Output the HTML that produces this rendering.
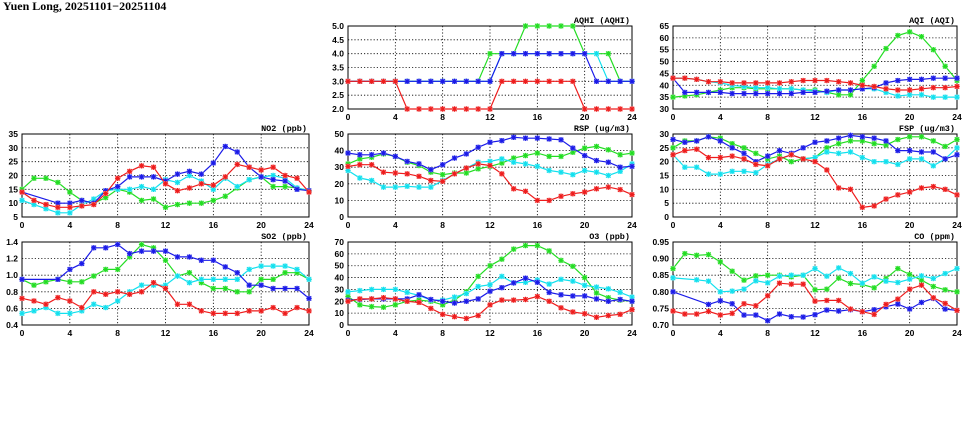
<!DOCTYPE html>
<html><head><meta charset="utf-8">
<style>
html,body{margin:0;padding:0;background:#fff;}
svg{display:block;}
text{font-family:"Liberation Sans",sans-serif;}
</style></head>
<body>
<svg id="chart" width="975" height="447" viewBox="0 0 975 447" xmlns="http://www.w3.org/2000/svg">
<text x="3" y="10" font-weight="bold" font-size="12" style="font-family:'Liberation Serif',serif">Yuen Long, 20251101−20251104</text>
</svg>
<script>
const hours = [0,1,2,3,4,5,6,7,8,9,10,11,12,13,14,15,16,17,18,19,20,21,22,23,24];
const xTicks = [0,4,8,12,16,20,24];

const aqhiRed   = [3,3,3,3,3,2,2,2,2,2,2,2,2,3,3,3,3,3,3,3,2,2,2,2,2];
const aqhiGreen = [3,3,3,3,3,3,3,3,3,3,3,3,4,4,4,5,5,5,5,5,4,4,4,3,3];
const aqhiCyan  = [3,3,3,3,3,3,3,3,3,3,3,3,3,4,4,4,4,4,4,4,4,4,3,3,3];
const aqhiBlue  = [3,3,3,3,3,3,3,3,3,3,3,3,3,4,4,4,4,4,4,4,4,3,3,3,3];
const aqhiTicks = [2.0,2.5,3.0,3.5,4.0,4.5,5.0];

const aqiRed   = [43,43,42.5,41.5,41.5,41,41,41,41,41,41.5,42,42,42,41.5,41,40,39.5,38.5,38,38,38.5,39,39,39.5];
const aqiGreen = [35,35.5,36,37,38,39,39,38.5,38.5,38.5,38.5,38,38,37,36,36,42,48,55.5,61,62.5,60.5,55,48,42];
const aqiCyan  = [43,43,42.5,41.5,41,40,39.5,39,39,38.5,38.5,38,37.5,37,38,38,38.5,38.5,37,35.5,36,36,35,35,35];
const aqiBlue  = [43,37,37,37,37,36.5,36.5,36.5,36.5,36.5,36.5,37,37,37.5,38,38,38.5,39,41,42,42.5,42.5,43,43,43];
const aqiTicks = [30,35,40,45,50,55,60,65];

const no2Red   = [14,11,9.5,8.5,8.5,9,9.5,13.5,19,21.5,23.5,23,17,14.5,15.5,17,16.5,19.5,24,23,22,23,20,19,14];
const no2Green = [15,19,19,17.5,14,11,10,12,15,14,11,11.5,8.5,9.5,10,10,11,12.5,15.5,18.5,19.5,16,16,15.5,14.5];
const no2Cyan  = [11,9.5,8,6.5,6.5,9.5,11.5,14.5,15,15,16,15,18.5,17.5,20,18,15,19,16,18.5,19.5,20,19,15.5,14.5];
const no2Blue  = [14,null,null,10,10,11,10,14.5,16,19.5,19.5,19.5,18,20.5,21.5,20.5,24.5,30.5,28.5,23,19.5,18.5,18,15,14.5];
const no2Ticks = [5,10,15,20,25,30,35];

const rspRed   = [30.5,31.5,31.5,27,26.5,26,24.5,22,21.5,26,29.5,32,31,26,17,15.5,10,10,12.5,14,15,17,18,16.5,13.5];
const rspGreen = [32,35,36,38,36.5,33,31,27,25.5,26.5,26.5,29,30.5,32.5,35.5,37,38.5,36.5,36.5,39,41.5,42.5,40.5,37.5,38.5];
const rspCyan  = [28,23.5,22,18,18,18.5,18,18,22,26,29.5,33,33.5,35,33,32,30.5,28,27,25.5,28,27,25,27.5,32];
const rspBlue  = [38.5,37.5,37.5,38.5,36.5,33.5,32,28.5,31.5,35.5,38,42,45,46,48,47.5,47.5,47,46.5,41.5,37,34,33,30,30.5];
const rspTicks = [0,10,20,30,40,50];

const fspRed   = [22.5,24,24.5,21.5,21.5,22,21,19,18.5,21,22.5,21,20,17,10.5,10,3.5,4,6.5,8,9,10.5,11,10,8];
const fspGreen = [25,27.5,27.5,29,28.5,26.5,25,23,21,22,20,21,21.5,25,26.5,27.5,27.5,26.5,26,28,29,29,27.5,25.5,28];
const fspCyan  = [22.5,18,18,15.5,15.5,16.5,16.5,16,19,21,22.5,21,21.5,23.5,23,23.5,21.5,20,20,19,21,21,18.5,21,25];
const fspBlue  = [28,27,27.5,29,27.5,25,23,20,22,24,23,25,27,27.5,28.5,29.5,29,28.5,27.5,24,24,23.5,23.5,21,22.5];
const fspTicks = [0,5,10,15,20,25,30];

const so2Red   = [.72,.69,.65,.73,.69,.61,.80,.77,.80,.77,.80,.91,.84,.65,.65,.57,.54,.54,.54,.57,.57,.61,.54,.61,.57];
const so2Green = [.95,.88,.92,.95,.92,.92,.99,1.07,1.07,1.22,1.37,1.33,1.18,.99,1.03,.91,.84,.84,.80,.80,.95,.95,1.03,1.03,.95];
const so2Cyan  = [.54,.57,.61,.54,.54,.57,.65,.61,.69,.80,.88,.88,.88,.99,.91,.95,.95,.95,.95,1.07,1.11,1.11,1.11,1.07,.95];
const so2Blue  = [.95,null,null,.95,1.07,1.14,1.33,1.33,1.37,1.26,1.29,1.29,1.29,1.22,1.22,1.18,1.18,1.10,1.03,.88,.88,.84,.84,.84,.72];
const so2Ticks = [0.4,0.6,0.8,1.0,1.2,1.4];

const o3Red   = [20,22,22,23,22,20,19,14,9,7,5.5,8,17,21,21,21.5,24,20,14.5,11,9.5,6.5,8,9,13];
const o3Green = [24,17,15.5,15,17,20,21,20,17,21,28,41,50,55.5,64,67,67,62.5,54.5,49.5,40,27,23,21,20];
const o3Cyan  = [28,29,30,30,30,27.5,25,21,21,23.5,26.5,32.5,34,41,35.5,36,38,34.5,38.5,37,33.5,32,30.5,27.5,23.5];
const o3Blue  = [21,21.5,22,22,22,22,25.5,21.5,20,18.5,20,22,28.5,31.5,35.5,39.5,36,27.5,25.5,24.5,24.5,22,20,21.5,20];
const o3Ticks = [0,10,20,30,40,50,60,70];

const coRed   = [.742,.733,.733,.741,.730,.735,.764,.758,.788,.826,.823,.823,.772,.774,.774,.748,.740,.732,.762,.778,.808,.820,.782,.765,.744];
const coGreen = [.870,.915,.910,.912,.890,.862,.835,.848,.850,.850,.845,.850,.806,.808,.841,.825,.822,.812,.840,.870,.852,.835,.816,.806,.800];
const coCyan  = [.842,null,.836,.832,.800,.802,.808,.833,.827,.847,.850,.850,.870,.847,.872,.855,.826,.845,.832,.828,.838,.848,.840,.855,.870];
const coBlue  = [.800,null,null,.762,.773,.764,.730,.730,.713,.733,.725,.724,.731,.745,.742,.746,.740,.746,.755,.763,.748,.768,.780,.748,.744];
const coTicks = [0.70,0.75,0.80,0.85,0.90,0.95];

const NS = "http://www.w3.org/2000/svg";
const svg = document.getElementById('chart');
const colors = {green:'#22dd22', cyan:'#11e0ee', blue:'#1a1ae8', red:'#ee1c1c'};
const halos  = {green:'#aaf0aa', cyan:'#aaf2f6', blue:'#9999f0', red:'#f6aaaa'};

function mk(tag, attrs, parent){
  const e = document.createElementNS(NS, tag);
  for (const k in attrs) e.setAttribute(k, attrs[k]);
  (parent||svg).appendChild(e);
  return e;
}

function panel(key, title, x0, x1, y0, y1, ticks, dec, series){
  const g = mk('g', {});
  
  
  const ymin = ticks[0], ymax = ticks[ticks.length-1];
  const X = h => x0 + (h/24)*(x1-x0);
  const Y = v => y1 - (v-ymin)/(ymax-ymin)*(y1-y0);
  xTicks.forEach(t => {
    if (t>0 && t<24) {
      const l = mk('line', {x1:X(t), x2:X(t), y1:y0, y2:y1, stroke:'#000', 'stroke-width':0.8, 'stroke-dasharray':'1.2,2'}, g);
      
      
    }
    const tl = mk('text', {x:X(t), y:y1+11, 'font-size':8.5, 'font-weight':'bold', 'text-anchor':'middle'}, g);
    
    
    tl.textContent = t;
  });
  ticks.forEach(t => {
    if (t>ymin && t<ymax) {
      const l = mk('line', {x1:x0, x2:x1, y1:Y(t), y2:Y(t), stroke:'#000', 'stroke-width':0.8, 'stroke-dasharray':'1.2,2'}, g);
      
      
    }
    const tl = mk('text', {x:x0-4, y:Y(t)+3, 'font-size':8.5, 'font-weight':'bold', 'text-anchor':'end'}, g);
    
    
    tl.textContent = t.toFixed(dec);
  });
  const frame = mk('rect', {x:x0, y:y0, width:x1-x0, height:y1-y0, fill:'none', stroke:'#000', 'stroke-width':1}, g);
  
  
  const tt = mk('text', {x:x1-2, y:y0-3, 'font-size':8.5, 'font-weight':'bold', 'text-anchor':'end', style:"font-family:'Liberation Mono',monospace"}, g);
  
  
  tt.textContent = title;
  series.forEach(([cname, vals]) => {
    const pts = [];
    vals.forEach((v,i) => { if (v !== null) pts.push([X(hours[i]), Y(v)]); });
    const sg = mk('g', {}, g);
    
    
    const pl = mk('polyline', {points: pts.map(p=>p[0].toFixed(1)+','+p[1].toFixed(1)).join(' '), fill:'none', stroke:colors[cname], 'stroke-width':1.2}, sg);
    
    
    pts.forEach(([px,py]) => {
      const m = mk('g', {}, sg);
      
      
      mk('rect', {x:px-2.5, y:py-2.5, width:5, height:5, fill:halos[cname]}, m);
      const s = 2.7;
      mk('path', {d:`M${px-s},${py}H${px+s}M${px},${py-s}V${py+s}M${px-s+0.6},${py-s+0.6}L${px+s-0.6},${py+s-0.6}M${px-s+0.6},${py+s-0.6}L${px+s-0.6},${py-s+0.6}`, stroke:colors[cname], 'stroke-width':1.1}, m);
    });
  });
}

const L = [22,309], M = [348,632], R = [673,957];
const T = [26,109], C = [134,217], B = [242,325];

panel('aqhi','AQHI (AQHI)', M[0],M[1],T[0],T[1], aqhiTicks,1,
  [['green',aqhiGreen],['cyan',aqhiCyan],['blue',aqhiBlue],['red',aqhiRed]]);
panel('aqi','AQI (AQI)', R[0],R[1],T[0],T[1], aqiTicks,0,
  [['green',aqiGreen],['cyan',aqiCyan],['blue',aqiBlue],['red',aqiRed]]);
panel('no2','NO2 (ppb)', L[0],L[1],C[0],C[1], no2Ticks,0,
  [['green',no2Green],['cyan',no2Cyan],['blue',no2Blue],['red',no2Red]]);
panel('rsp','RSP (ug/m3)', M[0],M[1],C[0],C[1], rspTicks,0,
  [['green',rspGreen],['cyan',rspCyan],['blue',rspBlue],['red',rspRed]]);
panel('fsp','FSP (ug/m3)', R[0],R[1],C[0],C[1], fspTicks,0,
  [['green',fspGreen],['cyan',fspCyan],['blue',fspBlue],['red',fspRed]]);
panel('so2','SO2 (ppb)', L[0],L[1],B[0],B[1], so2Ticks,1,
  [['green',so2Green],['cyan',so2Cyan],['blue',so2Blue],['red',so2Red]]);
panel('o3','O3 (ppb)', M[0],M[1],B[0],B[1], o3Ticks,0,
  [['green',o3Green],['cyan',o3Cyan],['blue',o3Blue],['red',o3Red]]);
panel('co','CO (ppm)', R[0],R[1],B[0],B[1], coTicks,2,
  [['green',coGreen],['cyan',coCyan],['blue',coBlue],['red',coRed]]);
</script>
</body></html>
